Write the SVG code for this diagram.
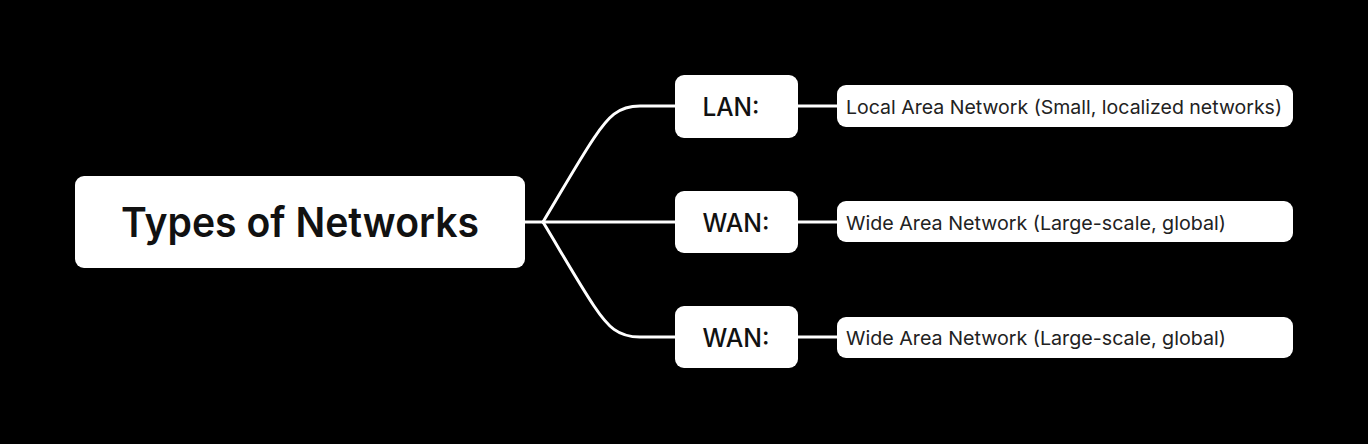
<svg xmlns="http://www.w3.org/2000/svg" width="1368" height="444" viewBox="0 0 1368 444">
<style>
.box{fill:#ffffff}
.conn{fill:none;stroke:#ffffff;stroke-width:3;stroke-linecap:round}
.root{font-family:Inter,"Liberation Sans",sans-serif;font-size:41px;font-weight:600;fill:#111111}
.mid{font-family:Inter,"Liberation Sans",sans-serif;font-size:25px;font-weight:500;fill:#111111}
.leaf{font-family:Inter,"Liberation Sans",sans-serif;font-size:19px;font-weight:400;fill:#222222}
</style>
<rect x="0" y="0" width="1368" height="444" fill="#000000"/>
<g id="connectors">
<path class="conn" d="M525,222 H543"/>
<path class="conn" d="M543,222 C560,194 578,162 594,138 C608,117 618,106 640,106 H675"/>
<path class="conn" d="M543,222 H675"/>
<path class="conn" d="M543,222 C560,250 578,282 594,306 C608,327 618,337 640,337 H675"/>
<path class="conn" d="M798,106 H838"/>
<path class="conn" d="M798,222 H838"/>
<path class="conn" d="M798,337 H838"/>
</g>
<g id="root">
<rect class="box" x="75" y="176" width="450" height="92" rx="9"/>
<text class="root" x="300" y="237" text-anchor="middle" textLength="358" lengthAdjust="spacingAndGlyphs">Types of Networks</text>
</g>
<g id="lan">
<rect class="box" x="675" y="75" width="123" height="63" rx="9"/>
<text class="mid" x="731" y="116" text-anchor="middle" textLength="57" lengthAdjust="spacingAndGlyphs">LAN:</text>
</g>
<g id="wan1">
<rect class="box" x="675" y="191" width="123" height="62" rx="9"/>
<text class="mid" x="736" y="232" text-anchor="middle" textLength="67" lengthAdjust="spacingAndGlyphs">WAN:</text>
</g>
<g id="wan2">
<rect class="box" x="675" y="306" width="123" height="62" rx="9"/>
<text class="mid" x="736" y="347" text-anchor="middle" textLength="67" lengthAdjust="spacingAndGlyphs">WAN:</text>
</g>
<g id="lan-desc">
<rect class="box" x="837" y="85" width="456" height="42" rx="9"/>
<text class="leaf" x="846" y="114" textLength="436" lengthAdjust="spacingAndGlyphs">Local Area Network (Small, localized networks)</text>
</g>
<g id="wan1-desc">
<rect class="box" x="837" y="201" width="456" height="41" rx="9"/>
<text class="leaf" x="846" y="230" textLength="380" lengthAdjust="spacingAndGlyphs">Wide Area Network (Large-scale, global)</text>
</g>
<g id="wan2-desc">
<rect class="box" x="837" y="317" width="456" height="41" rx="9"/>
<text class="leaf" x="846" y="345" textLength="380" lengthAdjust="spacingAndGlyphs">Wide Area Network (Large-scale, global)</text>
</g>
</svg>
